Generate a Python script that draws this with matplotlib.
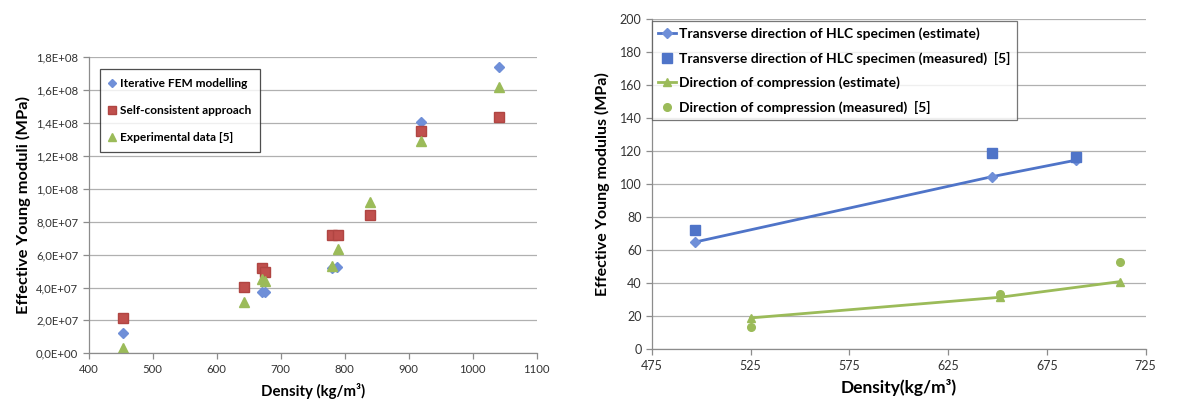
import matplotlib
matplotlib.use("Agg")
import matplotlib.pyplot as plt
from matplotlib.ticker import FuncFormatter, MultipleLocator

plt.rcParams['font.family'] = ['Lato', 'DejaVu Sans']

# Left chart: effective Young moduli vs density
fem_x = [454, 671, 676, 781, 788, 919, 1042]
fem_y = [1.25e7, 3.75e7, 3.7e7, 5.2e7, 5.25e7, 1.405e8, 1.74e8]
sc_x = [454, 643, 671, 676, 780, 789, 839, 919, 1042]
sc_y = [2.13e7, 4.03e7, 5.2e7, 4.93e7, 7.2e7, 7.2e7, 8.41e7, 1.354e8, 1.435e8]
exp_x = [454, 643, 671, 676, 781, 789, 839, 919, 1042]
exp_y = [3.0e6, 3.14e7, 4.5e7, 4.4e7, 5.33e7, 6.32e7, 9.18e7, 1.291e8, 1.621e8]

# Right chart: estimate vs measured
tr_est_x = [497, 647, 689.5]
tr_est_y = [65, 104.5, 114.5]
tr_meas_x = [497, 647, 689.5]
tr_meas_y = [72.5, 119, 116.5]
cp_est_x = [525, 651, 712]
cp_est_y = [19, 31.5, 41]
cp_meas_x = [525, 651, 712]
cp_meas_y = [13.5, 33.5, 53]
right_xticks = [475, 525, 575, 625, 675, 725]

BLUE = "#6f8fd8"
BLUE_DARK = "#4f74c8"
RED = "#c0504d"
GREEN = "#9bbb59"
GRID = "#b0b0b0"
AXIS = "#8c8c8c"

fig = plt.figure(figsize=(12.04, 4.05), dpi=100)


def style_axes(ax, labelsize):
    for s in ["top", "right"]:
        ax.spines[s].set_visible(False)
    for s in ["left", "bottom"]:
        ax.spines[s].set_color(AXIS)
        ax.spines[s].set_linewidth(0.9)
    ax.grid(axis="y", color=GRID, linewidth=0.9)
    ax.set_axisbelow(True)
    ax.tick_params(colors=AXIS, labelcolor="#333333", labelsize=labelsize, length=4, width=0.9)


# ---- left chart
ax1 = fig.add_axes([0.0737, 0.1277, 0.3719, 0.7308])
style_axes(ax1, 8.2)
ax1.plot(fem_x, fem_y, ls="none", marker="D", ms=5, color=BLUE, mec=BLUE,
         label="Iterative FEM modelling")
ax1.plot(sc_x, sc_y, ls="none", marker="s", ms=7, color=RED, mec="#b04542",
         label="Self-consistent approach")
ax1.plot(exp_x, exp_y, ls="none", marker="^", ms=7.5, color=GREEN, mec=GREEN,
         label="Experimental data [5]")
ax1.set_xlim(400, 1100)
ax1.set_ylim(0, 1.8e8)
ax1.xaxis.set_major_locator(MultipleLocator(100))
ax1.yaxis.set_major_locator(MultipleLocator(2e7))
ax1.yaxis.set_major_formatter(FuncFormatter(lambda v, p: f"{v:.1E}".replace(".", ",")))
ax1.set_xlabel("Density (kg/m³)", fontsize=10.8, fontweight="bold", labelpad=6)
ax1.set_ylabel("Effective Young moduli (MPa)", fontsize=11.8, fontweight="bold", labelpad=4)
leg1 = ax1.legend(loc="upper left", bbox_to_anchor=(0.025, 0.96),
                  prop={"weight": "bold", "size": 8.6}, frameon=True, fancybox=False,
                  edgecolor="#222222", handlelength=0.6, handletextpad=0.3,
                  labelspacing=1.35, borderpad=0.75, borderaxespad=0.0, markerscale=0.85)
leg1.get_frame().set_linewidth(0.9)

# ---- right chart
ax2 = fig.add_axes([0.5415, 0.1375, 0.4101, 0.8155])
style_axes(ax2, 9)
ax2.plot(tr_est_x, tr_est_y, color=BLUE_DARK, lw=2, marker="D", ms=5,
         mfc=BLUE, mec=BLUE, label="Transverse direction of HLC specimen (estimate)")
ax2.plot(tr_meas_x, tr_meas_y, ls="none", marker="s", ms=6.5, color=BLUE_DARK,
         label="Transverse direction of HLC specimen (measured)  [5]")
ax2.plot(cp_est_x, cp_est_y, color=GREEN, lw=2, marker="^", ms=6, mfc=GREEN,
         label="Direction of compression (estimate)")
ax2.plot(cp_meas_x, cp_meas_y, ls="none", marker="o", ms=5.5, color=GREEN,
         label="Direction of compression (measured)  [5]")
ax2.set_xlim(475, 725)
ax2.set_ylim(0, 200)
ax2.set_xticks(right_xticks)
ax2.yaxis.set_major_locator(MultipleLocator(20))
ax2.set_xlabel("Density(kg/m³)", fontsize=12.5, fontweight="bold", labelpad=5)
ax2.set_ylabel("Effective Young modulus (MPa)", fontsize=11.5, fontweight="bold", labelpad=7)
leg2 = ax2.legend(loc="upper left", bbox_to_anchor=(0.0, 0.995), prop={"weight": "bold", "size": 10},
                  frameon=True, fancybox=False, edgecolor="#555555", handlelength=1.3,
                  handletextpad=0.2, labelspacing=0.85, borderpad=0.45, borderaxespad=0.0)
leg2.get_frame().set_linewidth(0.9)

fig.savefig("out.png", dpi=100)
